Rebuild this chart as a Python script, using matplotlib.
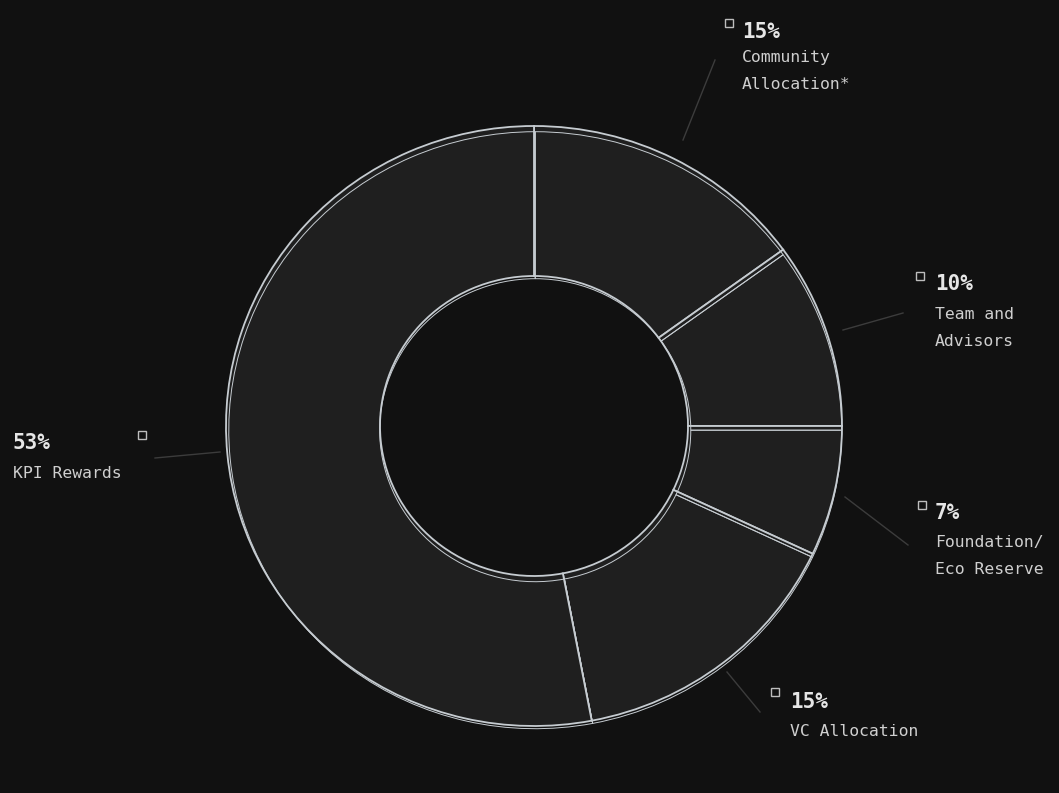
import matplotlib.pyplot as plt
import numpy as np

# data
labels = ["Community\nAllocation*", "Team and\nAdvisors", "Foundation/\nEco Reserve",
          "VC Allocation", "KPI Rewards"]
shares = [15, 10, 7, 15, 53]

# look
bg = "#111111"
fill = "#1f1f1f"
edge = "#c6ccd1"
W, H = 1059, 793
cx, cy = 534, 426      # pie center in pixels
RX, RY = 308, 300      # the drawn ring is a touch wider than tall


def px(x, y):
    # pixel -> data coords of the full-figure axes
    return (x - cx) / RX, (cy - y) / RY


fig = plt.figure(figsize=(W / 100, H / 100), dpi=100, facecolor=bg)
ax = fig.add_axes([0, 0, 1, 1])
ax.set_facecolor(bg)

ax.pie(shares, startangle=90, counterclock=False, radius=1.0,
       colors=[fill] * len(shares),
       wedgeprops=dict(width=0.5, edgecolor=edge, linewidth=1.3))
# second, slightly offset outline for the "glitchy" double stroke
ax.pie(shares, startangle=90, counterclock=False, radius=0.995, center=(0.004, -0.014),
       colors=["none"] * len(shares),
       wedgeprops=dict(width=0.49, edgecolor=edge, linewidth=0.7, fill=False))
ax.set_aspect("auto")
ax.set_xlim(-cx / RX, (W - cx) / RX)
ax.set_ylim(-(H - cy) / RY, cy / RY)
ax.axis("off")

# label placement (pixels): square, percent text, label text, leader line
spots = [
    dict(sq=(729, 23), pct=(742, 32), txt=(742, 57), line=((683, 140), (715, 60))),
    dict(sq=(920, 276), pct=(935, 284), txt=(935, 314), line=((843, 330), (903, 313))),
    dict(sq=(922, 505), pct=(935, 513), txt=(935, 543), line=((845, 497), (908, 545))),
    dict(sq=(775, 692), pct=(790, 702), txt=(790, 731), line=((727, 672), (760, 712))),
    dict(sq=(142, 435), pct=(13, 443), txt=(13, 473), line=((155, 458), (220, 452))),
]

mono = "DejaVu Sans Mono"
for lab, val, s in zip(labels, shares, spots):
    (x0, y0), (x1, y1) = s["line"]
    a, b = px(x0, y0), px(x1, y1)
    ax.plot([a[0], b[0]], [a[1], b[1]], color="#3c3c3c", lw=1)
    sx, sy = px(*s["sq"])
    ax.plot(sx, sy, marker="s", ms=6, mfc="none", mec="#bdbdbd", mew=1)
    tx, ty = px(*s["pct"])
    ax.text(tx, ty, f"{val}%", color="#e6e6e6", fontsize=15, fontweight="bold",
            family=mono, ha="left", va="center")
    for i, line in enumerate(lab.split("\n")):
        lx, ly = px(s["txt"][0], s["txt"][1] + 27 * i)
        ax.text(lx, ly, line, color="#cfcfcf", fontsize=11.8, family=mono,
                ha="left", va="center")

fig.savefig("out.png", dpi=100, facecolor=bg)
